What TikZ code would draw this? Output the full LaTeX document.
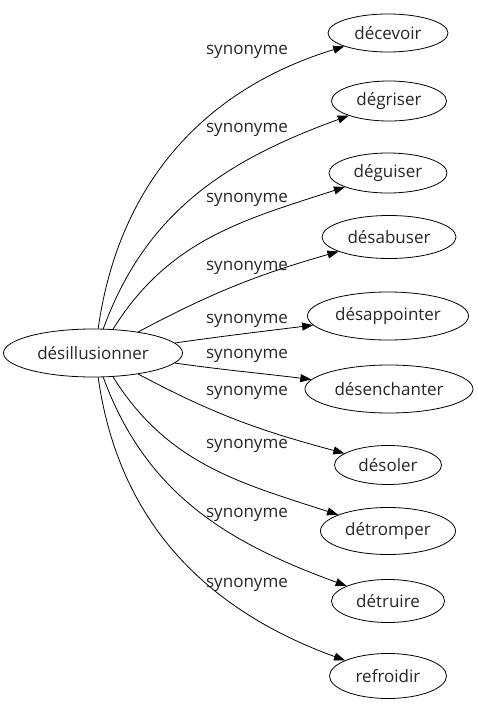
\documentclass[tikz,border=0pt]{standalone}
\usepackage{fontspec}
\setmainfont{Open Sans}
\usetikzlibrary{arrows.meta,shapes.geometric}
\tikzset{
  word/.style={draw, ellipse, line width=0.8pt, inner sep=0pt, font=\fontsize{17}{19}\selectfont, text=black!85},
  lab/.style={font=\fontsize{17}{19}\selectfont, text=black!85, inner sep=0pt},
  rel/.style={line width=0.8pt, -{Triangle[length=11pt,width=8pt]}}
}
\begin{document}
\begin{tikzpicture}[x=1pt,y=-1pt]
\useasboundingbox (0,0) rectangle (477,707);
\node[word, minimum width=179pt, minimum height=48pt] (src) at (93,353) {désillusionner};
\node[word, minimum width=120pt, minimum height=38pt] (t1) at (388,33) {décevoir};
\node[word, minimum width=115pt, minimum height=40pt] (t2) at (389,101) {dégriser};
\node[word, minimum width=118pt, minimum height=40pt] (t3) at (388,173) {déguiser};
\node[word, minimum width=134pt, minimum height=43pt] (t4) at (389,237) {désabuser};
\node[word, minimum width=161pt, minimum height=48pt] (t5) at (388,316) {désappointer};
\node[word, minimum width=168pt, minimum height=48pt] (t6) at (389,389) {désenchanter};
\node[word, minimum width=107pt, minimum height=39pt] (t7) at (388,465) {désoler};
\node[word, minimum width=135pt, minimum height=47pt] (t8) at (388,531) {détromper};
\node[word, minimum width=113pt, minimum height=43pt] (t9) at (388,601) {détruire};
\node[word, minimum width=117pt, minimum height=45pt] (t10) at (388,676) {refroidir};
\node[lab] (l1) at (247,52) {synonyme};
\node[lab] (l2) at (247,130) {synonyme};
\node[lab] (l3) at (247,200) {synonyme};
\node[lab] (l4) at (247,268) {synonyme};
\node[lab] (l5) at (247,321) {synonyme};
\node[lab] (l6) at (247,356) {synonyme};
\node[lab] (l7) at (247,393) {synonyme};
\node[lab] (l8) at (247,446) {synonyme};
\node[lab] (l9) at (247,515) {synonyme};
\node[lab] (l10) at (247,585) {synonyme};
\draw[rel] (src.78) to[out=82, in=197] (t1);
\draw[rel] (src.67) to[out=70, in=200] (t2);
\draw[rel] (src.50) to[out=58, in=198] (t3);
\draw[rel] (src.25) to[out=28, in=196] (t4);
\draw[rel] (src.7) to[out=8, in=187] (t5);
\draw[rel] (src.-7) to[out=-8, in=173] (t6);
\draw[rel] (src.-25) to[out=-28, in=165] (t7);
\draw[rel] (src.-50) to[out=-58, in=162] (t8);
\draw[rel] (src.-67) to[out=-70, in=160] (t9);
\draw[rel] (src.-78) to[out=-82, in=160] (t10);
\end{tikzpicture}
\end{document}
